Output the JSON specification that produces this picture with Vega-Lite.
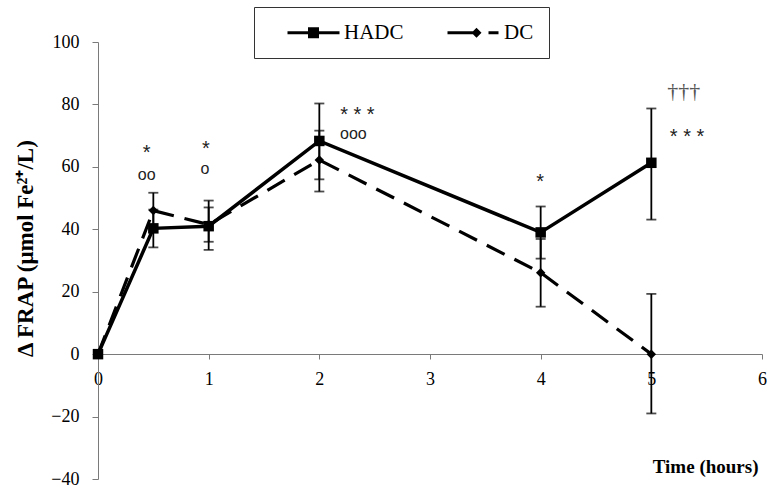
{
  "$schema": "https://vega.github.io/schema/vega-lite/v6.json",
  "width": 664,
  "height": 437,
  "autosize": {"type": "none"},
  "padding": {"left": 98, "top": 42, "right": 5, "bottom": 9},
  "background": "white",
  "config": {
    "view": {"stroke": null},
    "font": "Liberation Serif",
    "axisX": {
      "grid": false, "tickCount": 6, "offset": -125, "domainColor": "#7a7a7a", "tickColor": "#7a7a7a",
      "tickSize": 5, "labelFont": "Liberation Serif", "labelFontSize": 18, "labelColor": "black",
      "labelPadding": 11, "labelFlush": false, "titleFont": "Liberation Serif", "titleFontSize": 19,
      "titleFontWeight": "bold", "titleColor": "black", "titleAlign": "right", "titleX": 660,
      "titleY": 112, "titleBaseline": "middle"
    },
    "axisY": {
      "grid": false, "tickCount": 7, "domainColor": "#7a7a7a", "tickColor": "#7a7a7a",
      "tickSize": 6, "labelFont": "Liberation Serif", "labelFontSize": 18, "labelColor": "black",
      "labelPadding": 13, "labelFlush": false, "titleFont": "Liberation Serif", "titleFontSize": 23,
      "titleFontWeight": "bold", "titleColor": "black", "titleX": -73, "titleY": 206,
      "titleAlign": "center", "titleBaseline": "middle", "titleAngle": -90
    }
  },
  "datasets": {
    "obs": [
      {"series": "HADC", "t": 0, "v": 0, "lo": null, "hi": null},
      {"series": "HADC", "t": 0.5, "v": 40.3, "lo": 34.2, "hi": 46.3},
      {"series": "HADC", "t": 1, "v": 41.0, "lo": 33.4, "hi": 49.2},
      {"series": "HADC", "t": 2, "v": 68.3, "lo": 56.0, "hi": 80.3},
      {"series": "HADC", "t": 4, "v": 39.0, "lo": 30.6, "hi": 47.3},
      {"series": "HADC", "t": 5, "v": 61.3, "lo": 43.1, "hi": 78.7},
      {"series": "DC", "t": 0, "v": 0, "lo": null, "hi": null},
      {"series": "DC", "t": 0.5, "v": 46.0, "lo": 40.2, "hi": 51.7},
      {"series": "DC", "t": 1, "v": 41.5, "lo": 36.0, "hi": 47.0},
      {"series": "DC", "t": 2, "v": 62.2, "lo": 52.1, "hi": 71.6},
      {"series": "DC", "t": 4, "v": 26.1, "lo": 15.2, "hi": 36.9},
      {"series": "DC", "t": 5, "v": 0, "lo": -19.0, "hi": 19.3}
    ],
    "notes": [
      {"kind": "star", "t": 0.44, "v": 64.3, "label": "*"},
      {"kind": "circ", "t": 0.44, "v": 57.4, "label": "oo"},
      {"kind": "star", "t": 0.976, "v": 65.7, "label": "*"},
      {"kind": "circ", "t": 0.967, "v": 59.4, "label": "o"},
      {"kind": "star", "t": 2.344, "v": 76.6, "label": "* * *"},
      {"kind": "circ", "t": 2.308, "v": 70.6, "label": "ooo"},
      {"kind": "star", "t": 3.996, "v": 55.2, "label": "*"},
      {"kind": "dagger", "t": 5.292, "v": 84.3, "label": "†††"},
      {"kind": "star", "t": 5.323, "v": 69.7, "label": "* * *"}
    ]
  },
  "encoding": {
    "x": {"field": "t", "type": "quantitative", "scale": {"domain": [0, 6], "nice": false}, "title": "Time (hours)"}
  },
  "layer": [
    {
      "data": {"name": "obs"},
      "transform": [{"filter": "datum.lo != null"}],
      "mark": {"type": "rule", "color": "black", "strokeWidth": 1.8},
      "encoding": {
        "y": {"field": "lo", "type": "quantitative", "scale": {"domain": [-40, 100], "nice": false}, "title": "Δ FRAP (μmol Fe²⁺/L)"},
        "y2": {"field": "hi"}
      }
    },
    {
      "data": {"name": "obs"},
      "transform": [{"filter": "datum.lo != null"}],
      "mark": {"type": "tick", "orient": "horizontal", "color": "black", "size": 10, "thickness": 1.8},
      "encoding": {
        "y": {"field": "lo", "type": "quantitative", "scale": {"domain": [-40, 100], "nice": false}, "title": "Δ FRAP (μmol Fe²⁺/L)"}
      }
    },
    {
      "data": {"name": "obs"},
      "transform": [{"filter": "datum.lo != null"}],
      "mark": {"type": "tick", "orient": "horizontal", "color": "black", "size": 10, "thickness": 1.8},
      "encoding": {
        "y": {"field": "hi", "type": "quantitative", "scale": {"domain": [-40, 100], "nice": false}, "title": "Δ FRAP (μmol Fe²⁺/L)"}
      }
    },
    {
      "data": {"name": "obs"},
      "transform": [{"filter": "datum.series == 'DC'"}],
      "mark": {"type": "line", "color": "black", "strokeWidth": 3.2, "strokeDash": [20, 11]},
      "encoding": {
        "y": {"field": "v", "type": "quantitative", "scale": {"domain": [-40, 100], "nice": false}, "title": "Δ FRAP (μmol Fe²⁺/L)"}
      }
    },
    {
      "data": {"name": "obs"},
      "transform": [{"filter": "datum.series == 'HADC'"}],
      "mark": {"type": "line", "color": "black", "strokeWidth": 3.5},
      "encoding": {
        "y": {"field": "v", "type": "quantitative", "scale": {"domain": [-40, 100], "nice": false}, "title": "Δ FRAP (μmol Fe²⁺/L)"}
      }
    },
    {
      "data": {"name": "obs"},
      "transform": [{"filter": "datum.series == 'DC'"}],
      "mark": {"type": "point", "shape": "diamond", "filled": true, "color": "black", "size": 90, "opacity": 1},
      "encoding": {
        "y": {"field": "v", "type": "quantitative", "scale": {"domain": [-40, 100], "nice": false}, "title": "Δ FRAP (μmol Fe²⁺/L)"}
      }
    },
    {
      "data": {"name": "obs"},
      "transform": [{"filter": "datum.series == 'HADC'"}],
      "mark": {"type": "point", "shape": "square", "filled": true, "color": "black", "size": 110, "opacity": 1},
      "encoding": {
        "y": {"field": "v", "type": "quantitative", "scale": {"domain": [-40, 100], "nice": false}, "title": "Δ FRAP (μmol Fe²⁺/L)"}
      }
    },
    {
      "data": {"name": "obs"},
      "transform": [{"filter": "datum.t < -1"}],
      "mark": {"type": "point", "filled": true, "color": "black", "opacity": 1},
      "encoding": {
        "y": {"field": "v", "type": "quantitative", "scale": {"domain": [-40, 100], "nice": false}, "title": "Δ FRAP (μmol Fe²⁺/L)"},
        "shape": {
          "field": "series", "type": "nominal",
          "scale": {"domain": ["HADC", "DC"], "range": ["M-1,-0.15H4.2V0.15H-1ZM1.05,-0.55H2.15V0.55H1.05Z", "M-1,-0.15H1.6V0.15H-1ZM3.1,-0.15H4.1V0.15H3.1ZM1.9,-0.5L2.4,0L1.9,0.5L1.4,0Z"]},
          "legend": {
            "title": null, "orient": "none", "legendX": 156, "legendY": -35, "direction": "horizontal",
            "strokeColor": "#333333", "padding": 15, "symbolSize": 400, "symbolOffset": 18,
            "symbolFillColor": "black", "symbolStrokeWidth": 0,
            "labelFont": "Liberation Serif", "labelFontSize": 21, "labelColor": "black",
            "labelOffset": 36, "columnPadding": 25
          }
        }
      }
    },
    {
      "data": {"name": "notes"},
      "transform": [{"filter": "datum.kind == 'star'"}],
      "mark": {"type": "text", "font": "Liberation Sans", "fontSize": 20, "color": "#222222", "align": "center", "baseline": "middle"},
      "encoding": {
        "y": {"field": "v", "type": "quantitative", "scale": {"domain": [-40, 100], "nice": false}, "title": "Δ FRAP (μmol Fe²⁺/L)"},
        "text": {"field": "label"}
      }
    },
    {
      "data": {"name": "notes"},
      "transform": [{"filter": "datum.kind == 'circ'"}],
      "mark": {"type": "text", "font": "Liberation Sans", "fontSize": 16, "color": "#222222", "align": "center", "baseline": "middle"},
      "encoding": {
        "y": {"field": "v", "type": "quantitative", "scale": {"domain": [-40, 100], "nice": false}, "title": "Δ FRAP (μmol Fe²⁺/L)"},
        "text": {"field": "label"}
      }
    },
    {
      "data": {"name": "notes"},
      "transform": [{"filter": "datum.kind == 'dagger'"}],
      "mark": {"type": "text", "font": "Liberation Serif", "fontSize": 22, "color": "#555555", "align": "center", "baseline": "middle"},
      "encoding": {
        "y": {"field": "v", "type": "quantitative", "scale": {"domain": [-40, 100], "nice": false}, "title": "Δ FRAP (μmol Fe²⁺/L)"},
        "text": {"field": "label"}
      }
    }
  ]
}
